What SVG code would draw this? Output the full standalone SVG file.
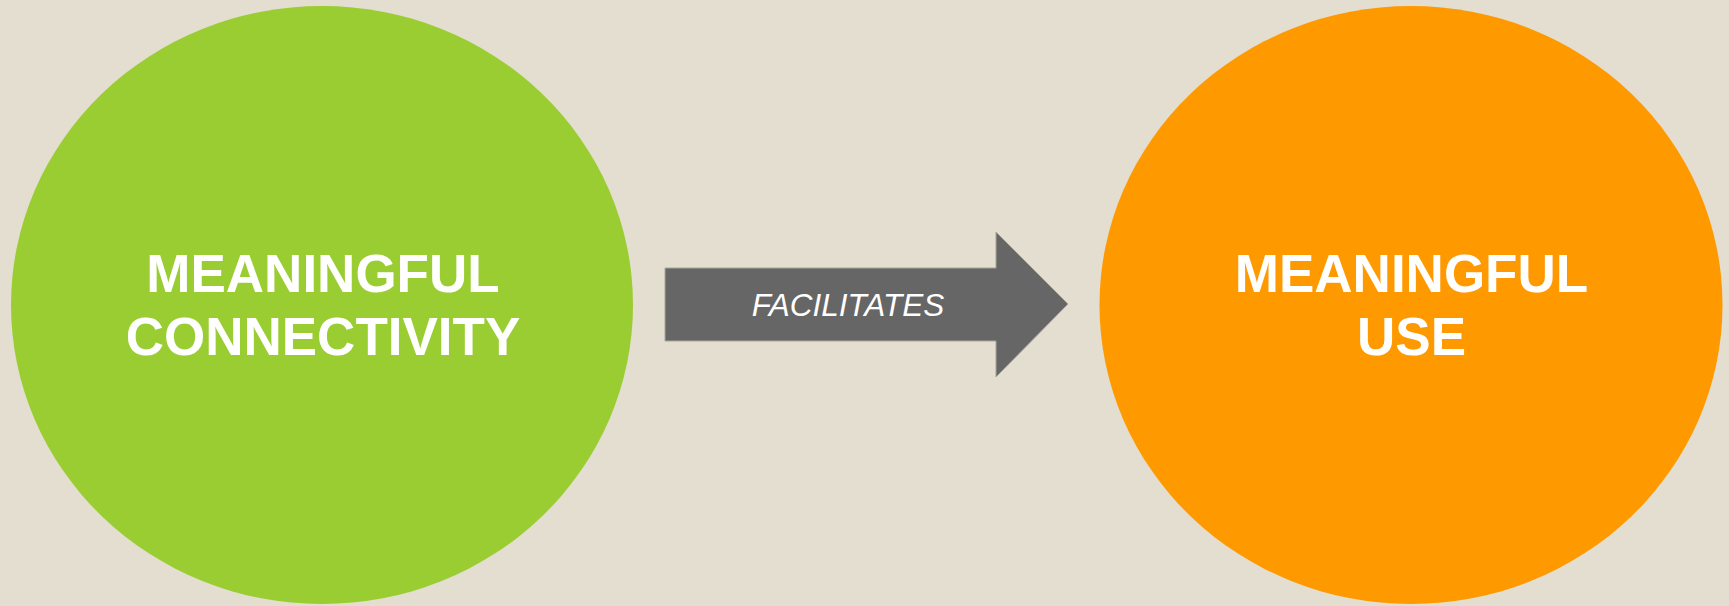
<svg xmlns="http://www.w3.org/2000/svg" width="1729" height="606" viewBox="0 0 1729 606">
<style>
.node-label{font-family:"Liberation Sans",Arial,sans-serif;font-weight:bold;font-size:53px;fill:#ffffff;text-anchor:middle}
.conn-label{font-family:"Liberation Sans",Arial,sans-serif;font-style:italic;font-size:31.5px;fill:#ffffff;text-anchor:middle}
</style>
<rect x="0" y="0" width="1729" height="606" fill="#E3DECF"/>
<g id="node-connectivity">
<ellipse cx="322" cy="305" rx="311" ry="299" fill="#9ACD32"/>
<text class="node-label" x="323" y="292">MEANINGFUL</text>
<text class="node-label" x="323" y="355">CONNECTIVITY</text>
</g>
<g id="node-use">
<ellipse cx="1411" cy="305" rx="311.5" ry="299" fill="#FF9900"/>
<text class="node-label" x="1411.5" y="292">MEANINGFUL</text>
<text class="node-label" x="1411.5" y="355">USE</text>
</g>
<g id="connectors">
<polygon points="665,268 996,268 996,232 1068,304 996,377 996,341 665,341" fill="#666666" stroke="#A8A498" stroke-width="1"/>
<text class="conn-label" x="848" y="316">FACILITATES</text>
</g>
</svg>
